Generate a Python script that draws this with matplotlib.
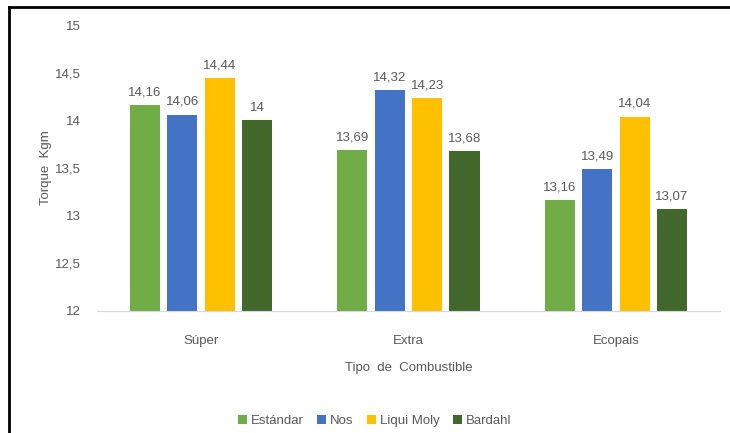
import matplotlib
matplotlib.use('Agg')
import matplotlib.pyplot as plt
import numpy as np
from matplotlib.lines import Line2D

plt.rcParams['font.family'] = ['Liberation Sans Narrow', 'Liberation Sans', 'DejaVu Sans']

# datos
categorias = ['Súper', 'Extra', 'Ecopais']
series = ['Estándar', 'Nos', 'Liqui Moly', 'Bardahl']
estandar = [14.16, 13.69, 13.16]
nos = [14.06, 14.32, 13.49]
liqui_moly = [14.44, 14.23, 14.04]
bardahl = [14.0, 13.68, 13.07]
valores = [estandar, nos, liqui_moly, bardahl]
colores = ['#70ad47', '#4472c4', '#ffc000', '#43682b']

gris = '#595959'

fig = plt.figure(figsize=(7.3, 4.33), dpi=100)
ax = fig.add_axes([0.133, 0.282, 0.853, 0.66])

x = np.arange(len(categorias))
ancho = 0.145
paso = 0.18
for i, (nombre, vals) in enumerate(zip(series, valores)):
    pos = x + (i - 1.5) * paso
    ax.bar(pos, [v - 12 for v in vals], ancho, bottom=12, color=colores[i], label=nombre)
    for xb, v in zip(pos, vals):
        txt = ('%.2f' % v).rstrip('0').rstrip('.').replace('.', ',')
        ax.text(xb, v + 0.07, txt, ha='center', va='bottom', fontsize=9.5, color=gris)

ax.set_ylim(12, 15)
ax.set_xlim(-0.5, 2.5)
yt = np.arange(12, 15.01, 0.5)
ax.set_yticks(yt)
ax.set_yticklabels([('%g' % t).replace('.', ',') for t in yt])
ax.set_xticks(x)
ax.set_xticklabels(categorias)
ax.tick_params(axis='both', length=0, colors=gris, labelsize=9.5)
ax.tick_params(axis='x', pad=17)
ax.tick_params(axis='y', pad=12)
for s in ['top', 'right', 'left']:
    ax.spines[s].set_visible(False)
ax.spines['bottom'].set_color('#d9d9d9')

ax.set_ylabel('Torque  Kgm', color=gris, fontsize=9.5, labelpad=2)
ax.set_xlabel('Tipo  de  Combustible', color=gris, fontsize=9.5, labelpad=11)

ax.legend(loc='center', bbox_to_anchor=(0.446, -0.385), ncol=4, frameon=False,
          fontsize=9.5, handlelength=0.7, handleheight=0.7, handletextpad=0.3, columnspacing=1.0,
          labelcolor=gris)

# marco
fig.add_artist(Line2D([0.012, 1.0], [0.984, 0.984], color='black', lw=2.0, transform=fig.transFigure))
fig.add_artist(Line2D([0.012, 0.012], [0.0, 0.984], color='black', lw=2.0, transform=fig.transFigure))

plt.savefig('out.png', dpi=100)
